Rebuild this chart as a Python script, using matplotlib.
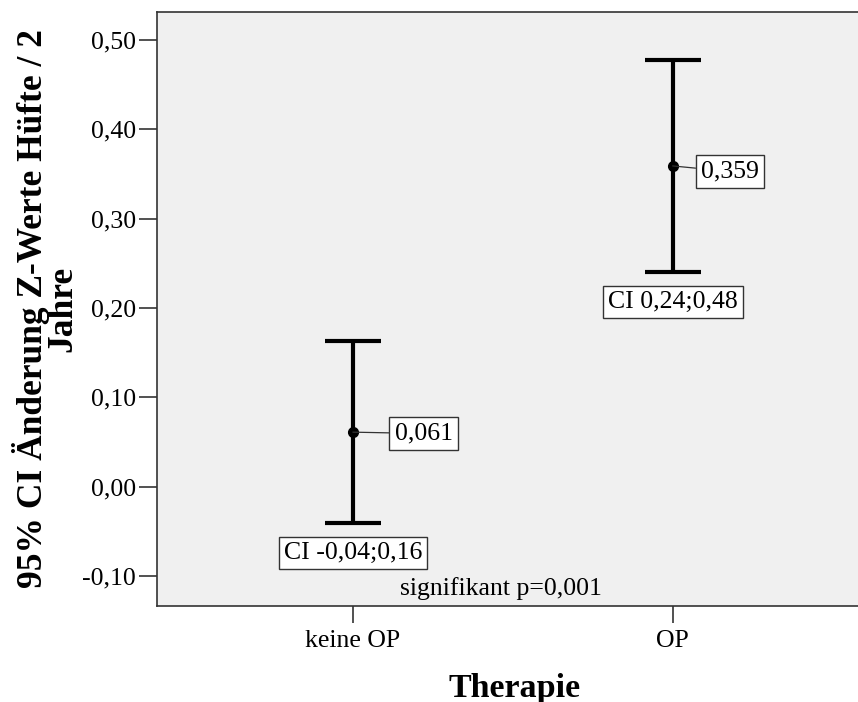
import matplotlib
matplotlib.use("Agg")
import matplotlib.pyplot as plt

# group means and 95% confidence limits
groups = ["keine OP", "OP"]
means = [0.061, 0.359]
ci_lower = [-0.0403, 0.2408]
ci_upper = [0.1635, 0.478]
p_text = "signifikant p=0,001"

yticks = [-0.10, 0.00, 0.10, 0.20, 0.30, 0.40, 0.50]


def de(v, nd):
    return f"{v:.{nd}f}".replace(".", ",")


plt.rcParams["font.family"] = ["Liberation Serif", "DejaVu Serif"]

fig = plt.figure(figsize=(8.58, 7.02), dpi=100)
ax = fig.add_axes([157 / 858, 96 / 702, 1 - 157 / 858 + 0.002, 594 / 702])
ax.set_facecolor("#f0f0f0")

x = list(range(len(groups)))
yerr = [[m - lo for m, lo in zip(means, ci_lower)],
        [hi - m for m, hi in zip(means, ci_upper)]]
ax.errorbar(x, means, yerr=yerr, fmt="none", ecolor="black",
            elinewidth=3.0, capsize=20, capthick=3.0, zorder=3)
ax.plot(x, means, "o", color="black", markersize=7, zorder=4)

box = dict(boxstyle="square,pad=0.2", fc="white", ec="#333333", lw=1.0)
line = dict(arrowstyle="-", color="#333333", lw=0.9, shrinkA=0, shrinkB=0)
mean_offsets = [(30, -1), (20.5, -4)]
for xi, m, lo, hi, off in zip(x, means, ci_lower, ci_upper, mean_offsets):
    ax.annotate(de(m, 3), xy=(xi, m), xytext=off, textcoords="offset points",
                ha="left", va="center", fontsize=18.5, bbox=box,
                arrowprops=line, zorder=5)
    ax.annotate(f"CI {de(lo, 2)};{de(hi, 2)}", xy=(xi, lo), xytext=(0, -22),
                textcoords="offset points", ha="center", va="center",
                fontsize=18.5, bbox=box, zorder=5)

ax.text(0.49, 0.03, p_text, transform=ax.transAxes, ha="center",
        va="center", fontsize=18.5)

ax.set_xlim(-0.6125, 1.585)
ax.set_ylim(-0.1336, 0.5313)
ax.set_xticks(x)
ax.set_xticklabels(groups)
ax.set_yticks(yticks)
ax.set_yticklabels([de(v, 2) for v in yticks])
ax.tick_params(axis="y", length=13, width=1.2, color="#333333",
               labelsize=18.5, pad=2)
ax.tick_params(axis="x", length=12, width=1.2, color="#333333",
               labelsize=18.5, pad=5)

for s in ["left", "bottom", "top"]:
    ax.spines[s].set_color("#333333")
    ax.spines[s].set_linewidth(1.2)
ax.spines["right"].set_visible(False)

ax.set_ylabel("95% CI Änderung Z-Werte Hüfte / 2\nJahre", fontsize=25.5,
              fontweight="bold", linespacing=0.85)
ax.yaxis.set_label_coords(-0.11, 0.5)
ax.set_xlabel("Therapie", fontsize=24.5, fontweight="bold")
ax.xaxis.set_label_coords(0.509, -0.112)

fig.savefig("out.png", dpi=100)
